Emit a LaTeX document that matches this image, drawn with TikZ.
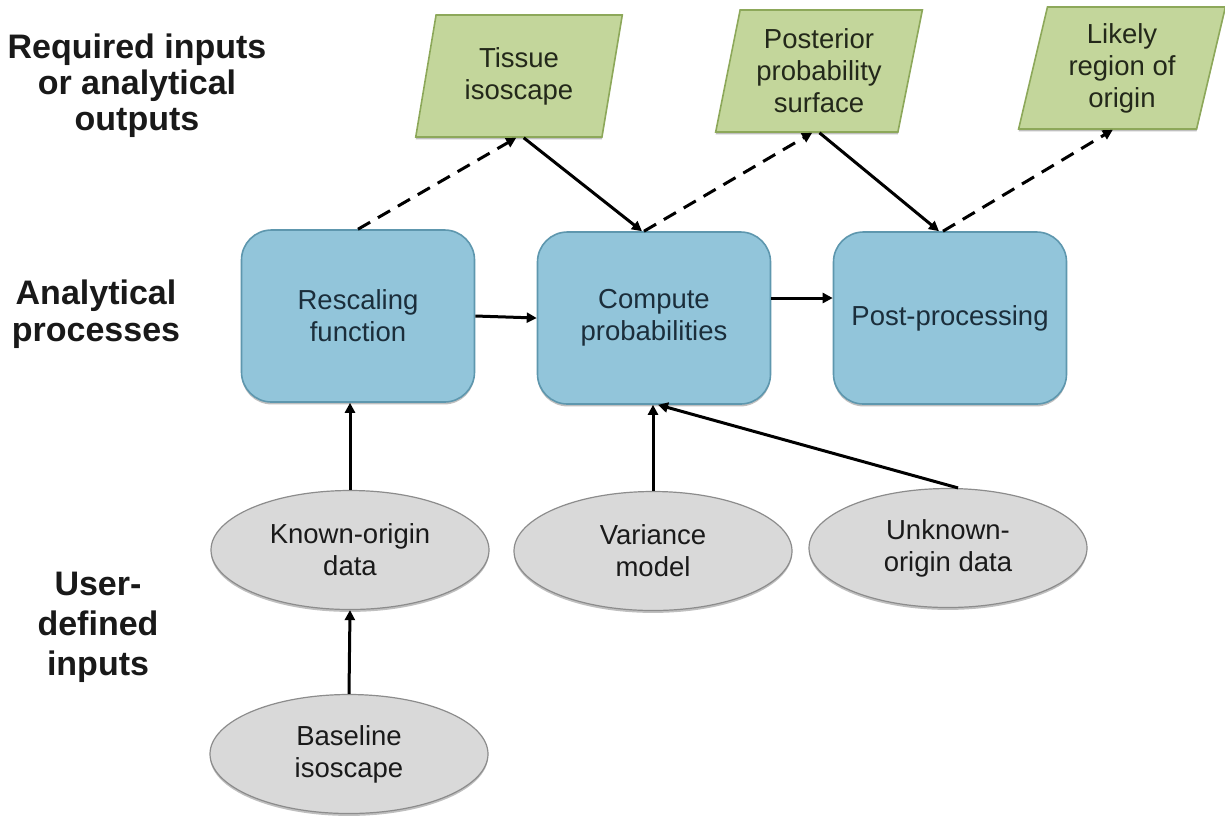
\documentclass[tikz,border=0pt]{standalone}
\usepackage{fontspec}
\setmainfont{Liberation Sans}
\usetikzlibrary{shapes.geometric,arrows.meta,calc,shadows}
\definecolor{gfill}{HTML}{C3D69B}
\definecolor{gline}{HTML}{8DA85A}
\definecolor{gtext}{HTML}{23281A}
\definecolor{bfill}{HTML}{92C5DA}
\definecolor{bline}{HTML}{5E97AE}
\definecolor{btext}{HTML}{1B2E3B}
\definecolor{efill}{HTML}{D9D9D9}
\definecolor{eline}{HTML}{8C8C8C}
\definecolor{etext}{HTML}{1A1A1A}
\begin{document}
\begin{tikzpicture}[x=0.5pt,y=-0.5pt,
  txt/.style={font=\fontsize{13.75}{16}\selectfont, align=center},
  shad/.style={drop shadow={shadow xshift=0pt, shadow yshift=-1.2pt, opacity=0.25, fill=black}},
  outbox/.style={txt, trapezium, trapezium left angle=77, trapezium right angle=103,
    trapezium stretches=true, minimum width=104pt, minimum height=61pt,
    fill=gfill, draw=gline, line width=0.8pt, text=gtext, inner sep=0pt, shad},
  procbox/.style={txt, rectangle, rounded corners=15pt, minimum width=116.5pt,
    minimum height=86pt, fill=bfill, draw=bline, line width=0.8pt, text=btext, shad},
  inbox/.style={txt, ellipse, minimum width=139pt, minimum height=59.5pt,
    fill=efill, draw=eline, line width=0.6pt, text=etext, inner sep=0pt, shad},
  lab/.style={font=\bfseries\fontsize{17}{18}\selectfont, align=center, text=black!90},
  arr/.style={line width=1.5pt, -{Triangle[length=5pt,width=5pt]}},
  darr/.style={arr, dash pattern=on 7pt off 4.5pt},
]
\fill[white] (0,0) rectangle (1225,816);
\useasboundingbox (0,0) rectangle (1225,816);

% side labels
\node[lab] (l1) at (137,86) {Required inputs\\or analytical\\outputs};
\node[lab, font=\bfseries\fontsize{17}{18.5}\selectfont] (l2) at (96,314) {Analytical\\processes};
\node[lab, font=\bfseries\fontsize{17}{20}\selectfont] (l3) at (98,627) {User-\\defined\\inputs};

% outputs
\node[outbox] (tis) at (519,76) {Tissue\\isoscape};
\node[outbox] (post) at (819,71) {Posterior\\probability\\surface};
\node[outbox] (lik) at (1122,68) {Likely\\region of\\origin};

% processes
\node[procbox] (resc) at (358,316) {Rescaling\\function};
\node[procbox] (comp) at (654,318) {Compute\\probabilities};
\node[procbox] (pp) at (950,318) {Post-processing};

% inputs
\node[inbox] (known) at (350,550) {Known-origin\\data};
\node[inbox] (var) at (653,551) {Variance\\model};
\node[inbox] (unk) at (948,548) {Unknown-\\origin data};
\node[inbox] (base) at (349,754) {Baseline\\isoscape};

% connectors
\draw[darr] (resc.north) -- ($(tis.bottom left corner)!0.54!(tis.bottom right corner)$);
\draw[arr] ($(tis.bottom left corner)!0.58!(tis.bottom right corner)$) -- ($(comp.north)+(-12,0)$);
\draw[darr] ($(comp.north)+(-10,0)$) -- ($(post.bottom left corner)!0.53!(post.bottom right corner)$);
\draw[arr] ($(post.bottom left corner)!0.57!(post.bottom right corner)$) -- ($(pp.north)+(-11,0)$);
\draw[darr] ($(pp.north)+(-7,0)$) -- ($(lik.bottom left corner)!0.53!(lik.bottom right corner)$);
\draw[arr] (resc.east) -- (comp.west);
\draw[arr] ($(comp.east)+(0,-20)$) -- ($(pp.west)+(0,-20)$);
\draw[arr] (known.north) -- (known.north |- resc.south);
\draw[arr] (var.north) -- (var.north |- comp.south);
\draw[arr] ($(unk.north)+(10,0)$) -- ($(comp.south)+(4,0)$);
\draw[arr] (base.north) -- (known.south);
\end{tikzpicture}
\end{document}
